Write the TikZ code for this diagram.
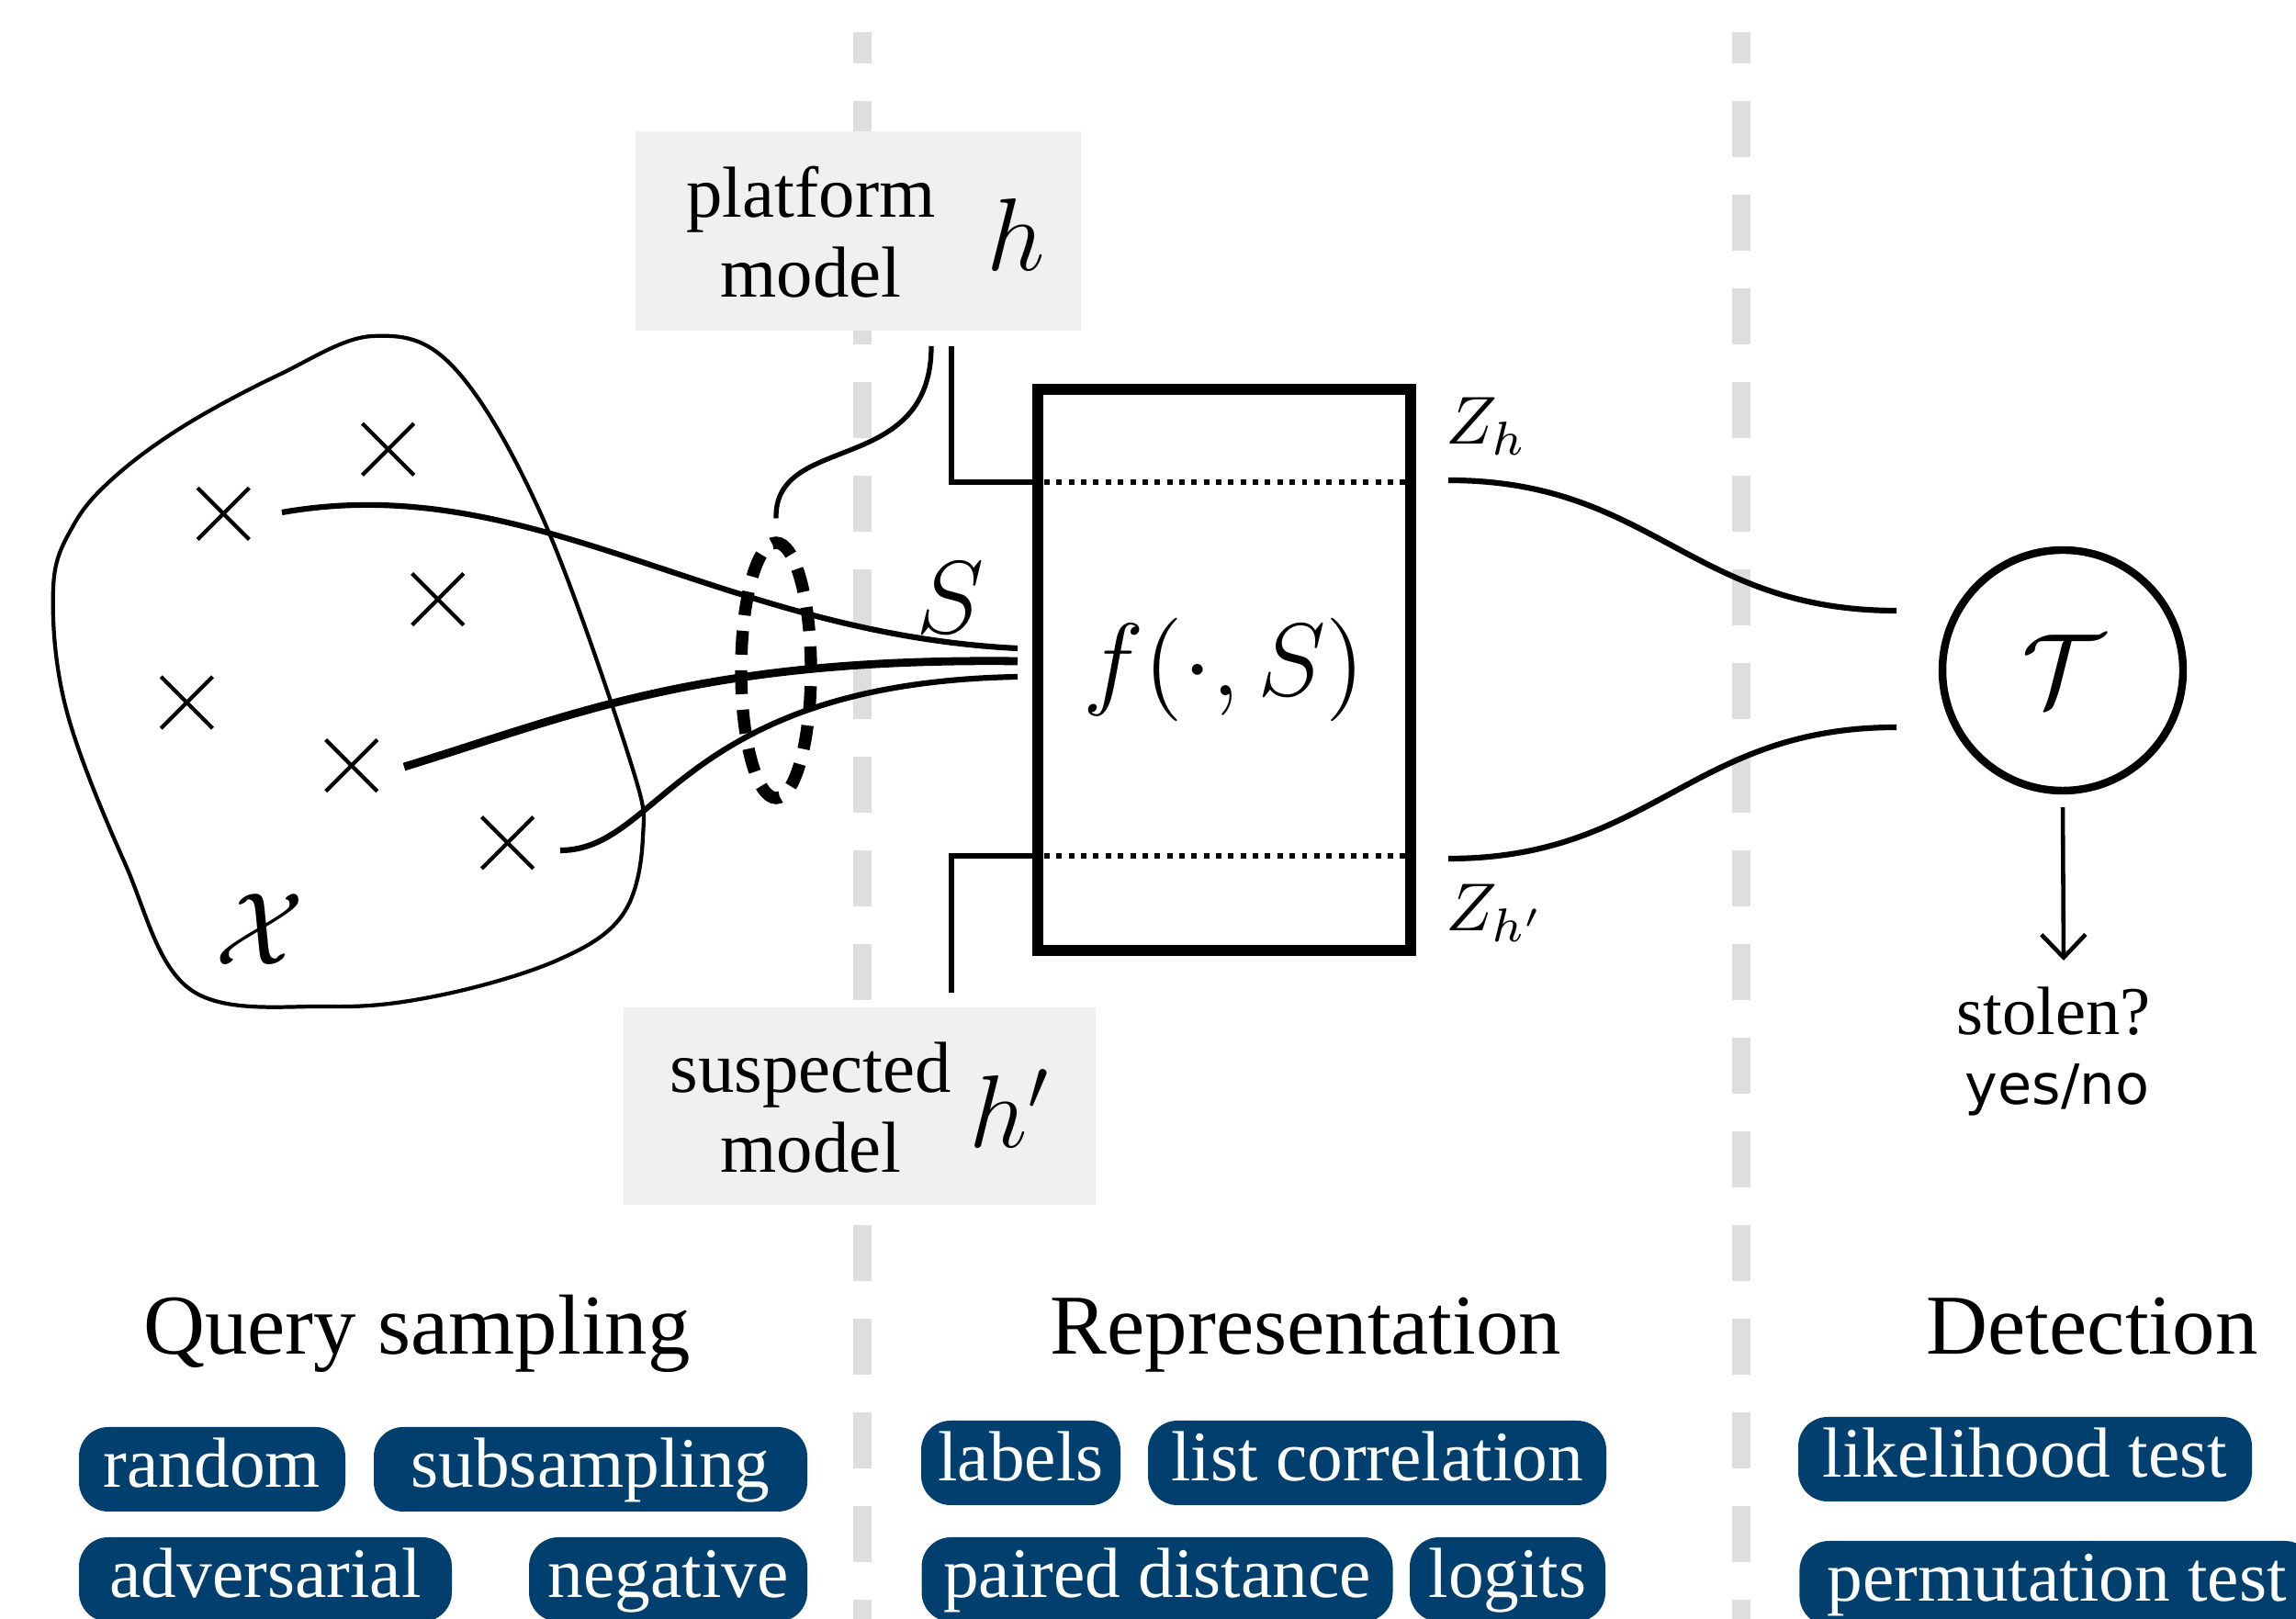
\RequirePackage{fix-cm}
\documentclass[tikz,border=0pt]{standalone}
\usepackage{amsmath}
\usepackage{amssymb}
\usepackage[no-math]{fontspec}
\setmainfont{Liberation Serif}
\newfontfamily\yesnofont{DejaVu Sans}
\usepackage{tikz}
\usetikzlibrary{shapes.geometric,shapes.misc,arrows.meta}

\definecolor{tagblue}{HTML}{013F6E}
\definecolor{divgray}{HTML}{DEDEDE}
\definecolor{boxgray}{HTML}{F0F0F0}

\begin{document}
\begin{tikzpicture}[
        divider/.style={draw=divgray, line width=0.1cm, dash pattern=on 0.305cm off 0.205cm, dash phase=0.135cm},
        modelbox/.style={fill=boxgray, inner sep=0pt},
        modeltext/.style={align=center, inner sep=0pt, font=\fontsize{11.2}{12.4}\selectfont},
        bigmath/.style={inner sep=0pt, font=\fontsize{16}{19}\selectfont},
        wire/.style={line width=0.75pt},
        query/.style={line width=0.88pt},
        dotline/.style={line width=0.85pt, dash pattern=on 0.85pt off 1.05pt},
        cross/.style={cross out, draw, line width=0.6pt, minimum size=0.26cm, inner sep=0pt},
        title/.style={anchor=base, inner sep=0pt, font=\fontsize{13.2}{15}\selectfont},
        tagbox/.style={fill=tagblue, text=white, rounded corners=0.16cm, minimum height=0.46cm,
            inner sep=0pt, text height=7.9pt, text depth=2.4pt, font=\fontsize{11}{13}\selectfont},
    ]
    \useasboundingbox (0,0) rectangle (12.5,-8.815);

    % dividers between the three stages
    \draw[divider] (4.695,-0.175) -- (4.695,-9.0);
    \draw[divider] (9.4775,-0.175) -- (9.4775,-9.0);

    % query space
    \draw[line width=0.6pt] plot[smooth cycle, tension=0.6] coordinates {
        (2.03,-1.83) (1.52,-2.04) (1.0,-2.32) (0.62,-2.60) (0.40,-2.86) (0.29,-3.20) (0.36,-3.86)
        (0.68,-4.70) (1.04,-5.39) (1.79,-5.48) (2.39,-5.42) (3.03,-5.23) (3.39,-4.98)
        (3.50,-4.56) (3.43,-4.14) (2.95,-2.81) (2.47,-2.0)};
    \foreach \p/\q [count=\i] in {1.216/-2.797, 2.113/-2.446, 2.384/-3.263,
                                  1.017/-3.825, 1.914/-4.168, 2.763/-4.589}{
        \node[cross] (x\i) at (\p,\q) {};
    }
    \node[bigmath] (xlab) at (1.415,-5.06) {$\mathcal{X}$};

    % models
    \node[modelbox, minimum width=2.425cm, minimum height=1.085cm] (plat) at (4.6725,-1.258) {};
    \node[modeltext] (plattext) at (4.415,-1.265) {platform\\model};
    \node[bigmath] (h) at (5.53,-1.275) {$h$};

    \node[modelbox, minimum width=2.57cm, minimum height=1.075cm] (susp) at (4.68,-6.023) {};
    \node[modeltext] (susptext) at (4.415,-6.03) {suspected\\model};
    \node[bigmath] (hp) at (5.50,-6.035) {$h'$};

    % representation
    \node[draw, line width=1.8pt, minimum width=2.03cm, minimum height=3.055cm, inner sep=0pt,
        font=\fontsize{16}{19}\selectfont] (rep) at (6.665,-3.6475) {$f(\cdot,S)$};

    \coordinate (pt) at (5.18,-1.885);
    \coordinate (pk) at (5.18,-2.625);
    \coordinate (st) at (5.18,-5.405);
    \coordinate (sk) at (5.18,-4.66);
    \draw[wire] (pt) -- (pk) -- (pk -| rep.west);
    \draw[wire] (st) -- (sk) -- (sk -| rep.west);
    \draw[dotline] (pk -| rep.west) -- (pk -| rep.east);
    \draw[dotline] (sk -| rep.west) -- (sk -| rep.east);

    % selected queries
    \node[ellipse, draw, line width=1.9pt, dash pattern=on 0.13cm off 0.085cm,
        minimum width=0.38cm, minimum height=1.39cm, inner sep=0pt] (sel) at (4.225,-3.65) {};
    \node[bigmath] (slab) at (5.175,-3.255) {$S$};
    \coordinate (pc) at (5.07,-1.885);
    \draw[wire] (pc) .. controls (5.07,-2.6) and (4.215,-2.35) .. ([yshift=0.1cm]sel.north);

    \coordinate (q1) at (1.535,-2.79);
    \coordinate (q2) at (2.20,-4.175);
    \coordinate (q3) at (3.05,-4.63);
    \coordinate (s1) at (5.54,-3.53);
    \coordinate (s2) at (5.54,-3.60);
    \coordinate (s3) at (5.54,-3.685);
    \draw[query] (q1) .. controls (2.9,-2.55) and (3.9,-3.45) .. (s1);
    \draw[query, line width=1.25pt] (q2) .. controls (3.1,-3.9) and (3.8,-3.58) .. (s2);
    \draw[query] (q3) .. controls (3.6,-4.63) and (3.7,-3.72) .. (s3);

    % outputs
    \node[font=\fontsize{10.5}{12}\selectfont, anchor=base west, inner sep=0pt] (zh) at (7.865,-2.42) {$Z_h$};
    \node[font=\fontsize{10.5}{12}\selectfont, anchor=base west, inner sep=0pt] (zhp) at (7.865,-5.07) {$Z_{h'}$};
    \coordinate (z1) at (7.885,-2.615);
    \coordinate (z2) at (7.885,-4.675);
    \coordinate (t1) at (10.325,-3.325);
    \coordinate (t2) at (10.325,-3.96);
    \draw[query] (z1) .. controls (9.0,-2.615) and (9.2,-3.325) .. (t1);
    \draw[query] (z2) .. controls (9.0,-4.675) and (9.2,-3.96) .. (t2);

    % detection
    \node[circle, draw, line width=1.2pt, minimum size=1.31cm, inner sep=0pt,
        font=\fontsize{16}{19}\selectfont] (det) at (11.23,-3.65) {$\mathcal{T}$};
    \coordinate (tip) at (11.235,-5.23);
    \draw[line width=0.65pt, -{Straight Barb[length=1.25mm,width=2.4mm]}] ([yshift=-0.07cm]det.south) -- (tip);
    \node[anchor=base, inner sep=0pt, font=\fontsize{10.6}{12}\selectfont] (stolen) at (11.18,-5.635) {stolen?};
    \node[anchor=base, inner sep=0pt, font=\yesnofont\fontsize{8.6}{10}\selectfont] (yesno) at (11.2,-6.015) {yes/no};

    % stage titles
    \node[title] (qstitle) at (2.27,-7.375) {Query sampling};
    \node[title] (reptitle) at (7.11,-7.375) {Representation};
    \node[title] (dettitle) at (11.39,-7.375) {Detection};

    % methods
    \node[tagbox, minimum width=1.45cm] (random) at (1.155,-8.0) {random};
    \node[tagbox, minimum width=2.36cm] (subsamp) at (3.215,-8.0) {subsampling};
    \node[tagbox, minimum width=2.03cm] (advers) at (1.445,-8.6) {adversarial};
    \node[tagbox, minimum width=1.515cm] (negative) at (3.6375,-8.6) {negative};

    \node[tagbox, minimum width=1.085cm] (labels) at (5.5575,-7.965) {labels};
    \node[tagbox, minimum width=2.495cm] (listcor) at (7.4975,-7.965) {list correlation};
    \node[tagbox, minimum width=2.565cm] (paired) at (6.3,-8.6) {paired distance};
    \node[tagbox, minimum width=1.065cm] (logits) at (8.2075,-8.6) {logits};

    \node[tagbox, minimum width=2.47cm] (likeli) at (11.025,-7.945) {likelihood test};
    \node[tagbox, anchor=west, inner xsep=0.15cm] (permut) at (9.79,-8.62) {permutation test};
\end{tikzpicture}
\end{document}
